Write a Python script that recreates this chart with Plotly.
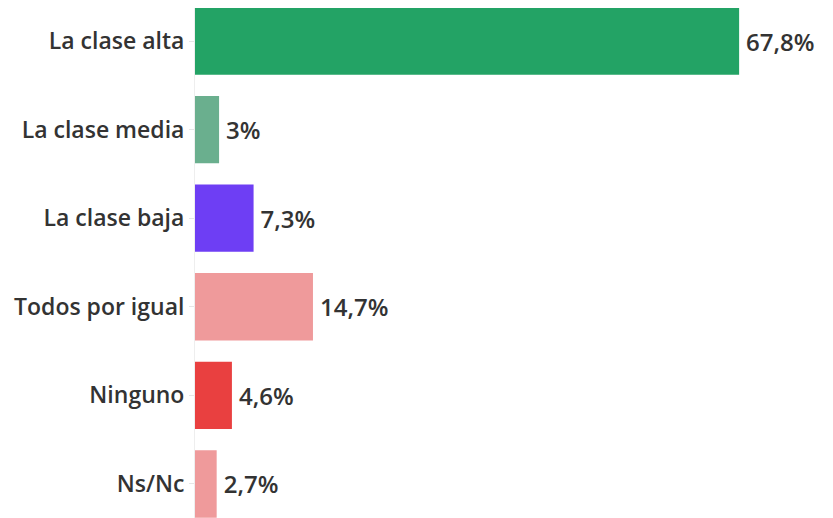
import plotly.graph_objects as go

categories = ["La clase alta", "La clase media", "La clase baja", "Todos por igual", "Ninguno", "Ns/Nc"]
values = [67.8, 3, 7.3, 14.7, 4.6, 2.7]
labels = ["67,8%", "3%", "7,3%", "14,7%", "4,6%", "2,7%"]
colors = ["#23a365", "#6aaf8e", "#6e3ef4", "#ef9a9b", "#e94040", "#ef9a9b"]

fig = go.Figure(go.Bar(
    x=values, y=categories, orientation="h",
    marker=dict(color=colors, line=dict(width=0)),
    text=["\u2009" + t for t in labels], textposition="outside", cliponaxis=False,
    textfont=dict(family="Open Sans", size=24, color="#333333", weight=600),
    width=0.76,
))
fig.update_layout(
    width=825, height=510,
    margin=dict(l=187, r=4, t=0, b=0, pad=0),
    plot_bgcolor="white", paper_bgcolor="white",
    showlegend=False,
    uniformtext=dict(minsize=24, mode="show"),
    xaxis=dict(range=[0, 79], visible=False, automargin=False),
    yaxis=dict(range=[5.384, -0.3725], showline=True, linecolor="#eeeeee", linewidth=1,
               ticks="outside", ticklen=5, tickcolor="#e6e6e6", automargin=False,
               tickfont=dict(family="Open Sans", size=23, color="#333333", weight=600),
               showgrid=False),
)
fig.write_html("out.html")
